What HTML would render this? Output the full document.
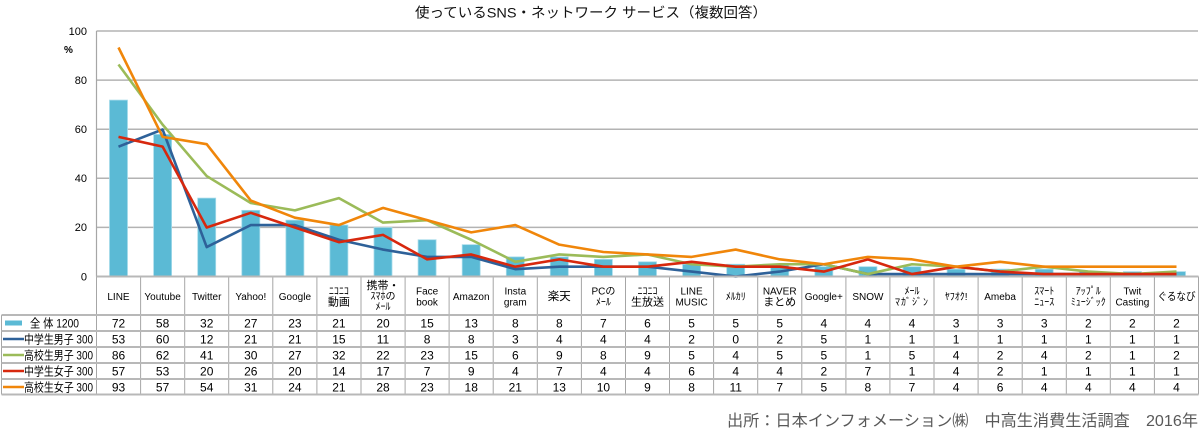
<!DOCTYPE html>
<html><head><meta charset="utf-8"><style>
html,body{margin:0;padding:0;background:#fff;width:1200px;height:440px;overflow:hidden}
svg{display:block;font-family:"Liberation Sans","Noto Sans CJK JP",sans-serif}
</style></head><body>
<svg width="1200" height="440" viewBox="0 0 1200 440" xmlns="http://www.w3.org/2000/svg">
<!-- title -->
<text x="415" y="17.5" font-size="14" fill="#111" textLength="352" lengthAdjust="spacingAndGlyphs">使っているSNS・ネットワーク サービス（複数回答）</text>
<!-- gridlines -->
<g stroke="#b3b3b3" stroke-width="1.5">
<line x1="96.5" y1="31" x2="1198" y2="31"/>
<line x1="96.5" y1="80.1" x2="1198" y2="80.1"/>
<line x1="96.5" y1="129.2" x2="1198" y2="129.2"/>
<line x1="96.5" y1="178.3" x2="1198" y2="178.3"/>
<line x1="96.5" y1="227.4" x2="1198" y2="227.4"/>
</g>
<!-- y labels -->
<g font-size="11" fill="#000" text-anchor="end">
<text x="87" y="35">100</text>
<text x="87" y="84">80</text>
<text x="87" y="133">60</text>
<text x="87" y="182">40</text>
<text x="87" y="231">20</text>
<text x="87" y="280.5">0</text>
</g>
<text x="64" y="53" font-size="10" font-weight="bold" fill="#000">%</text>
<!-- bars -->
<g fill="#5bbad5" stroke="#a6dbea" stroke-width="0.8">
<rect x="109.5" y="100.1" width="18" height="176.4"/>
<rect x="153.6" y="134.4" width="18" height="142.1"/>
<rect x="197.7" y="198.1" width="18" height="78.4"/>
<rect x="241.8" y="210.35" width="18" height="66.15"/>
<rect x="285.9" y="220.15" width="18" height="56.35"/>
<rect x="329.9" y="225.05" width="18" height="51.45"/>
<rect x="374.0" y="227.5" width="18" height="49"/>
<rect x="418.1" y="239.75" width="18" height="36.75"/>
<rect x="462.2" y="244.65" width="18" height="31.85"/>
<rect x="506.3" y="256.9" width="18" height="19.6"/>
<rect x="550.3" y="256.9" width="18" height="19.6"/>
<rect x="594.4" y="259.35" width="18" height="17.15"/>
<rect x="638.5" y="261.8" width="18" height="14.7"/>
<rect x="682.6" y="264.25" width="18" height="12.25"/>
<rect x="726.7" y="264.25" width="18" height="12.25"/>
<rect x="770.7" y="264.25" width="18" height="12.25"/>
<rect x="814.8" y="266.7" width="18" height="9.8"/>
<rect x="858.9" y="266.7" width="18" height="9.8"/>
<rect x="903.0" y="266.7" width="18" height="9.8"/>
<rect x="947.1" y="269.15" width="18" height="7.35"/>
<rect x="991.1" y="269.15" width="18" height="7.35"/>
<rect x="1035.2" y="269.15" width="18" height="7.35"/>
<rect x="1079.3" y="271.6" width="18" height="4.9"/>
<rect x="1123.4" y="271.6" width="18" height="4.9"/>
<rect x="1167.5" y="271.6" width="18" height="4.9"/>
</g>
<!-- lines -->
<g fill="none" stroke-width="2.6" stroke-linejoin="round" stroke-linecap="butt">
<polyline stroke="#2e6199" points="118.5,146.65 162.6,129.5 206.7,247.1 250.8,225.05 294.9,225.05 338.9,239.75 383.0,249.55 427.1,256.9 471.2,256.9 515.3,269.15 559.3,266.7 603.4,266.7 647.5,266.7 691.6,271.6 735.7,276.5 779.7,271.6 823.8,264.25 867.9,274.05 912.0,274.05 956.1,274.05 1000.1,274.05 1044.2,274.05 1088.3,274.05 1132.4,274.05 1176.5,274.05"/>
<polyline stroke="#9bbb59" points="118.5,64.5 162.6,124.6 206.7,176.05 250.8,203.0 294.9,210.35 338.9,198.1 383.0,222.6 427.1,220.15 471.2,239.75 515.3,261.8 559.3,254.45 603.4,256.9 647.5,254.45 691.6,264.25 735.7,266.7 779.7,264.25 823.8,264.25 867.9,274.05 912.0,264.25 956.1,266.7 1000.1,271.6 1044.2,266.7 1088.3,271.6 1132.4,274.05 1176.5,271.6"/>
<polyline stroke="#d7280e" points="118.5,136.85 162.6,146.65 206.7,227.5 250.8,212.8 294.9,227.5 338.9,242.2 383.0,234.85 427.1,259.35 471.2,254.45 515.3,266.7 559.3,259.35 603.4,266.7 647.5,266.7 691.6,261.8 735.7,266.7 779.7,266.7 823.8,271.6 867.9,259.35 912.0,274.05 956.1,266.7 1000.1,271.6 1044.2,274.05 1088.3,274.05 1132.4,274.05 1176.5,274.05"/>
<polyline stroke="#f0860a" points="118.5,47.5 162.6,136.85 206.7,144.2 250.8,200.55 294.9,217.7 338.9,225.05 383.0,207.9 427.1,220.15 471.2,232.4 515.3,225.05 559.3,244.65 603.4,252.0 647.5,254.45 691.6,256.9 735.7,249.55 779.7,259.35 823.8,264.25 867.9,256.9 912.0,259.35 956.1,266.7 1000.1,261.8 1044.2,266.7 1088.3,266.7 1132.4,266.7 1176.5,266.7"/>
</g>
<!-- axis -->
<line x1="96.5" y1="31" x2="96.5" y2="276.5" stroke="#a6a6a6" stroke-width="1.2"/>
<!-- table grid -->
<g stroke="#a6a6a6" stroke-width="1">
<line x1="96.5" y1="276.5" x2="96.5" y2="394.5"/>
<line x1="140.6" y1="276.5" x2="140.6" y2="394.5"/>
<line x1="184.7" y1="276.5" x2="184.7" y2="394.5"/>
<line x1="228.7" y1="276.5" x2="228.7" y2="394.5"/>
<line x1="272.8" y1="276.5" x2="272.8" y2="394.5"/>
<line x1="316.9" y1="276.5" x2="316.9" y2="394.5"/>
<line x1="361.0" y1="276.5" x2="361.0" y2="394.5"/>
<line x1="405.1" y1="276.5" x2="405.1" y2="394.5"/>
<line x1="449.1" y1="276.5" x2="449.1" y2="394.5"/>
<line x1="493.2" y1="276.5" x2="493.2" y2="394.5"/>
<line x1="537.3" y1="276.5" x2="537.3" y2="394.5"/>
<line x1="581.4" y1="276.5" x2="581.4" y2="394.5"/>
<line x1="625.5" y1="276.5" x2="625.5" y2="394.5"/>
<line x1="669.5" y1="276.5" x2="669.5" y2="394.5"/>
<line x1="713.6" y1="276.5" x2="713.6" y2="394.5"/>
<line x1="757.7" y1="276.5" x2="757.7" y2="394.5"/>
<line x1="801.8" y1="276.5" x2="801.8" y2="394.5"/>
<line x1="845.9" y1="276.5" x2="845.9" y2="394.5"/>
<line x1="889.9" y1="276.5" x2="889.9" y2="394.5"/>
<line x1="934.0" y1="276.5" x2="934.0" y2="394.5"/>
<line x1="978.1" y1="276.5" x2="978.1" y2="394.5"/>
<line x1="1022.2" y1="276.5" x2="1022.2" y2="394.5"/>
<line x1="1066.3" y1="276.5" x2="1066.3" y2="394.5"/>
<line x1="1110.3" y1="276.5" x2="1110.3" y2="394.5"/>
<line x1="1154.4" y1="276.5" x2="1154.4" y2="394.5"/>
<line x1="1198.5" y1="276.5" x2="1198.5" y2="394.5"/>
<line x1="1.5" y1="315" x2="1.5" y2="394.5"/>
</g>
<g stroke="#b8b8b8" stroke-width="2">
<line x1="96.5" y1="276.5" x2="1198.5" y2="276.5"/>
<line x1="1.5" y1="315" x2="1198.5" y2="315"/>
<line x1="1.5" y1="331" x2="1198.5" y2="331"/>
<line x1="1.5" y1="347" x2="1198.5" y2="347"/>
<line x1="1.5" y1="363" x2="1198.5" y2="363"/>
<line x1="1.5" y1="379" x2="1198.5" y2="379"/>
<line x1="1.5" y1="394.5" x2="1198.5" y2="394.5"/>
</g>
<!-- header labels -->
<g font-size="10" fill="#000" text-anchor="middle">
<text x="118.5" y="300">LINE</text>
<text x="162.6" y="300">Youtube</text>
<text x="206.7" y="300">Twitter</text>
<text x="250.8" y="300">Yahoo!</text>
<text x="294.9" y="300">Google</text>
<text x="338.9" y="294.5">ﾆｺﾆｺ</text><text x="338.9" y="305.5" font-size="11">動画</text>
<text x="383.0" y="289" font-size="11">携帯・</text><text x="383.0" y="299.5">ｽﾏﾎの</text><text x="383.0" y="310">ﾒｰﾙ</text>
<text x="427.1" y="294.5">Face</text><text x="427.1" y="305.5">book</text>
<text x="471.2" y="300">Amazon</text>
<text x="515.3" y="294.5">Insta</text><text x="515.3" y="305.5">gram</text>
<text x="559.3" y="300" font-size="11.5">楽天</text>
<text x="603.4" y="294.5">PCの</text><text x="603.4" y="305.5">ﾒｰﾙ</text>
<text x="647.5" y="294.5">ﾆｺﾆｺ</text><text x="647.5" y="305.5" font-size="11">生放送</text>
<text x="691.6" y="294.5">LINE</text><text x="691.6" y="305.5">MUSIC</text>
<text x="735.7" y="300">ﾒﾙｶﾘ</text>
<text x="779.7" y="294.5">NAVER</text><text x="779.7" y="305.5" font-size="11">まとめ</text>
<text x="823.8" y="300">Google+</text>
<text x="867.9" y="300">SNOW</text>
<text x="912.0" y="294.5">ﾒｰﾙ</text><text x="912.0" y="305.5" letter-spacing="1">ﾏｶﾞｼﾞﾝ</text>
<text x="956.1" y="300">ﾔﾌｵｸ!</text>
<text x="1000.1" y="300">Ameba</text>
<text x="1044.2" y="294.5">ｽﾏｰﾄ</text><text x="1044.2" y="305.5">ﾆｭｰｽ</text>
<text x="1088.3" y="294.5">ｱｯﾌﾟﾙ</text><text x="1088.3" y="305.5">ﾐｭｰｼﾞｯｸ</text>
<text x="1132.4" y="294.5">Twit</text><text x="1132.4" y="305.5">Casting</text>
<text x="1176.5" y="300" font-size="11" textLength="38" lengthAdjust="spacingAndGlyphs">ぐるなび</text>
</g>
<!-- legend cells -->
<rect x="5" y="320.5" width="17" height="5" fill="#5bbad5"/>
<line x1="3" y1="339" x2="24" y2="339" stroke="#2e6199" stroke-width="2.5"/>
<line x1="3" y1="355" x2="24" y2="355" stroke="#9bbb59" stroke-width="2.5"/>
<line x1="3" y1="371" x2="24" y2="371" stroke="#d7280e" stroke-width="2.5"/>
<line x1="3" y1="387" x2="24" y2="387" stroke="#f0860a" stroke-width="2.5"/>
<g font-size="12" fill="#000">
<text x="30" y="327.5" textLength="49" lengthAdjust="spacingAndGlyphs">全 体 1200</text>
<text x="24" y="343.5" textLength="69" lengthAdjust="spacingAndGlyphs">中学生男子 300</text>
<text x="24" y="359.5" textLength="69" lengthAdjust="spacingAndGlyphs">高校生男子 300</text>
<text x="24" y="375.5" textLength="69" lengthAdjust="spacingAndGlyphs">中学生女子 300</text>
<text x="24" y="391.5" textLength="69" lengthAdjust="spacingAndGlyphs">高校生女子 300</text>
</g>
<!-- data -->
<g font-size="12" fill="#000" text-anchor="middle">
<g transform="translate(0,327.5)">
<text x="118.5">72</text><text x="162.6">58</text><text x="206.7">32</text><text x="250.8">27</text><text x="294.9">23</text><text x="338.9">21</text><text x="383.0">20</text><text x="427.1">15</text><text x="471.2">13</text><text x="515.3">8</text><text x="559.3">8</text><text x="603.4">7</text><text x="647.5">6</text><text x="691.6">5</text><text x="735.7">5</text><text x="779.7">5</text><text x="823.8">4</text><text x="867.9">4</text><text x="912.0">4</text><text x="956.1">3</text><text x="1000.1">3</text><text x="1044.2">3</text><text x="1088.3">2</text><text x="1132.4">2</text><text x="1176.5">2</text>
</g>
<g transform="translate(0,343.5)">
<text x="118.5">53</text><text x="162.6">60</text><text x="206.7">12</text><text x="250.8">21</text><text x="294.9">21</text><text x="338.9">15</text><text x="383.0">11</text><text x="427.1">8</text><text x="471.2">8</text><text x="515.3">3</text><text x="559.3">4</text><text x="603.4">4</text><text x="647.5">4</text><text x="691.6">2</text><text x="735.7">0</text><text x="779.7">2</text><text x="823.8">5</text><text x="867.9">1</text><text x="912.0">1</text><text x="956.1">1</text><text x="1000.1">1</text><text x="1044.2">1</text><text x="1088.3">1</text><text x="1132.4">1</text><text x="1176.5">1</text>
</g>
<g transform="translate(0,359.5)">
<text x="118.5">86</text><text x="162.6">62</text><text x="206.7">41</text><text x="250.8">30</text><text x="294.9">27</text><text x="338.9">32</text><text x="383.0">22</text><text x="427.1">23</text><text x="471.2">15</text><text x="515.3">6</text><text x="559.3">9</text><text x="603.4">8</text><text x="647.5">9</text><text x="691.6">5</text><text x="735.7">4</text><text x="779.7">5</text><text x="823.8">5</text><text x="867.9">1</text><text x="912.0">5</text><text x="956.1">4</text><text x="1000.1">2</text><text x="1044.2">4</text><text x="1088.3">2</text><text x="1132.4">1</text><text x="1176.5">2</text>
</g>
<g transform="translate(0,375.5)">
<text x="118.5">57</text><text x="162.6">53</text><text x="206.7">20</text><text x="250.8">26</text><text x="294.9">20</text><text x="338.9">14</text><text x="383.0">17</text><text x="427.1">7</text><text x="471.2">9</text><text x="515.3">4</text><text x="559.3">7</text><text x="603.4">4</text><text x="647.5">4</text><text x="691.6">6</text><text x="735.7">4</text><text x="779.7">4</text><text x="823.8">2</text><text x="867.9">7</text><text x="912.0">1</text><text x="956.1">4</text><text x="1000.1">2</text><text x="1044.2">1</text><text x="1088.3">1</text><text x="1132.4">1</text><text x="1176.5">1</text>
</g>
<g transform="translate(0,391.5)">
<text x="118.5">93</text><text x="162.6">57</text><text x="206.7">54</text><text x="250.8">31</text><text x="294.9">24</text><text x="338.9">21</text><text x="383.0">28</text><text x="427.1">23</text><text x="471.2">18</text><text x="515.3">21</text><text x="559.3">13</text><text x="603.4">10</text><text x="647.5">9</text><text x="691.6">8</text><text x="735.7">11</text><text x="779.7">7</text><text x="823.8">5</text><text x="867.9">8</text><text x="912.0">7</text><text x="956.1">4</text><text x="1000.1">6</text><text x="1044.2">4</text><text x="1088.3">4</text><text x="1132.4">4</text><text x="1176.5">4</text>
</g>
</g>
<!-- footer -->
<text x="727" y="426" font-size="16" fill="#595959" textLength="471" lengthAdjust="spacingAndGlyphs">出所：日本インフォメーション㈱　中高生消費生活調査　2016年</text>
</svg>
</body></html>
